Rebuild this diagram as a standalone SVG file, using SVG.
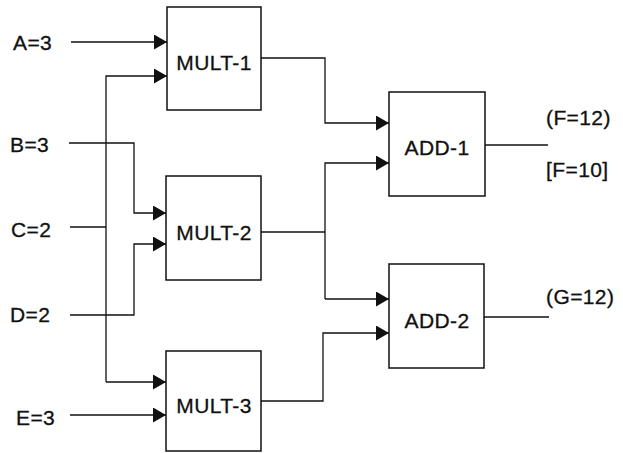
<svg xmlns="http://www.w3.org/2000/svg" width="623" height="453" viewBox="0 0 623 453">
<style>
.box{fill:#fff;stroke:#111;stroke-width:1.5}
.ln{fill:none;stroke:#111;stroke-width:1.3}
.t{font-family:"Liberation Sans",Arial,sans-serif;font-size:21px;fill:#111;letter-spacing:0.4px;stroke:#111;stroke-width:0.3}
.c{text-anchor:middle}
</style>
<defs>
<marker id="ah" markerUnits="userSpaceOnUse" markerWidth="14" markerHeight="16" refX="13" refY="7.5" orient="auto">
<path d="M0,0 L13,7.5 L0,15 Z" fill="#111"/>
</marker>
</defs>
<g id="connectors">
<path class="ln" d="M71,42 H167" marker-end="url(#ah)"/>
<path class="ln" d="M106,382 V76 H167" marker-end="url(#ah)"/>
<path class="ln" d="M70,227 H106"/>
<path class="ln" d="M106,382 H166" marker-end="url(#ah)"/>
<path class="ln" d="M69,143 H134 V213 H166" marker-end="url(#ah)"/>
<path class="ln" d="M70,315 H134 V244 H166" marker-end="url(#ah)"/>
<path class="ln" d="M70,415 H166" marker-end="url(#ah)"/>
<path class="ln" d="M261,58 H325 V123 H389" marker-end="url(#ah)"/>
<path class="ln" d="M261,232 H325"/>
<path class="ln" d="M325,299 V163 H389" marker-end="url(#ah)"/>
<path class="ln" d="M325,299 H389" marker-end="url(#ah)"/>
<path class="ln" d="M261,401 H323 V333 H389" marker-end="url(#ah)"/>
<path class="ln" d="M485,145 H548"/>
<path class="ln" d="M484,317 H549"/>
</g>
<g id="inputs">
<text class="t" x="13" y="50">A=3</text>
<text class="t" x="10" y="152">B=3</text>
<text class="t" x="11" y="237">C=2</text>
<text class="t" x="10" y="322">D=2</text>
<text class="t" x="16" y="425">E=3</text>
</g>
<g id="mult1"><rect class="box" x="167" y="7" width="94" height="103"/><text class="t c" x="214" y="70">MULT-1</text></g>
<g id="mult2"><rect class="box" x="166" y="176" width="95" height="104"/><text class="t c" x="214" y="240">MULT-2</text></g>
<g id="mult3"><rect class="box" x="166" y="351" width="95" height="100"/><text class="t c" x="214" y="413">MULT-3</text></g>
<g id="add1"><rect class="box" x="389" y="92" width="96" height="104"/><text class="t c" x="437" y="155">ADD-1</text></g>
<g id="add2"><rect class="box" x="389" y="264" width="95" height="104"/><text class="t c" x="437" y="328">ADD-2</text></g>
<g id="outputs">
<text class="t" x="546" y="125">(F=12)</text>
<text class="t" x="546" y="177">[F=10]</text>
<text class="t" x="546" y="304">(G=12)</text>
</g>
</svg>
